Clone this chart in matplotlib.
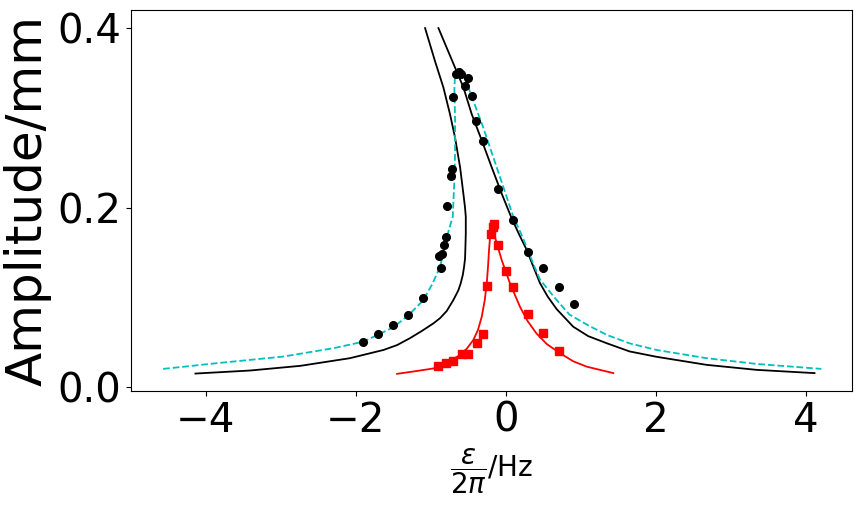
import matplotlib
matplotlib.use("Agg")
import matplotlib.pyplot as plt

# measured points (black dots)
dots_x = [-1.90, -1.70, -1.50, -1.30, -1.10, -0.89, -0.87, -0.85, -0.82, -0.80, -0.78,
          -0.73, -0.72, -0.70, -0.67, -0.63, -0.60, -0.54, -0.50, -0.45, -0.40, -0.30,
          -0.10, 0.10, 0.30, 0.50, 0.71, 0.91]
dots_y = [0.051, 0.059, 0.069, 0.080, 0.099, 0.146, 0.133, 0.149, 0.159, 0.167, 0.202,
          0.235, 0.243, 0.323, 0.349, 0.351, 0.349, 0.335, 0.344, 0.324, 0.297, 0.274,
          0.221, 0.186, 0.151, 0.133, 0.112, 0.093]

# measured points (red squares)
sq_x = [-0.90, -0.80, -0.70, -0.59, -0.50, -0.39, -0.30, -0.25, -0.19, -0.17, -0.156,
        -0.10, 0.01, 0.10, 0.30, 0.50, 0.71]
sq_y = [0.024, 0.027, 0.029, 0.037, 0.037, 0.049, 0.059, 0.113, 0.171, 0.179, 0.182,
        0.158, 0.130, 0.112, 0.082, 0.060, 0.040]

# black curve, left branch
bl_x = [-4.14, -3.41, -2.74, -2.08, -1.63, -1.45, -1.28, -1.12, -0.965, -0.876, -0.787,
        -0.70, -0.632, -0.60, -0.573, -0.556, -0.543, -0.539, -0.533, -0.533, -0.543,
        -0.565, -0.609, -0.676, -0.743, -0.832, -0.943, -1.076]
bl_y = [0.0153, 0.0187, 0.0239, 0.0324, 0.0416, 0.047, 0.0546, 0.0627, 0.0712, 0.077, 0.085,
        0.097, 0.108, 0.116, 0.125, 0.134, 0.143, 0.153, 0.171, 0.190, 0.200,
        0.2155, 0.245, 0.278, 0.304, 0.334, 0.363, 0.400]

# black curve, right branch
br_x = [-0.898, -0.787, -0.676, -0.565, -0.453, -0.32, -0.187, -0.053, 0.08, 0.18, 0.28,
        0.37, 0.457, 0.56, 0.68, 0.90, 1.10, 1.35, 1.65, 2.01, 2.68, 3.35, 4.12]
br_y = [0.400, 0.378, 0.356, 0.334, 0.304, 0.275, 0.245, 0.2155, 0.188, 0.170, 0.153,
        0.134, 0.116, 0.101, 0.087, 0.0675, 0.057, 0.049, 0.040, 0.034, 0.025, 0.0194, 0.0158]

# cyan dashed curve
cy_x = [-4.57, -3.85, -2.97, -2.30, -1.90, -1.50, -1.30, -1.10, -0.98, -0.876, -0.773,
        -0.707, -0.689, -0.676, -0.676, -0.685, -0.676, -0.632, -0.565, -0.432, -0.299,
        -0.165, -0.032, 0.101, 0.20, 0.28, 0.37, 0.457, 0.65, 0.85, 1.10, 1.35, 1.65,
        2.01, 2.68, 3.35, 4.21]
cy_y = [0.0205, 0.0269, 0.0342, 0.0435, 0.0508, 0.0668, 0.080, 0.097, 0.115, 0.134, 0.171,
        0.190, 0.223, 0.260, 0.297, 0.334, 0.347, 0.356, 0.349, 0.319, 0.289,
        0.256, 0.223, 0.190, 0.172, 0.156, 0.137, 0.120, 0.100, 0.081, 0.069, 0.0583, 0.049,
        0.0416, 0.0324, 0.026, 0.0205]

# red curve
rd_x = [-1.45, -1.20, -0.965, -0.876, -0.609, -0.52, -0.432, -0.37, -0.32, -0.28, -0.253,
        -0.236, -0.223, -0.20, -0.187, -0.143, -0.053, 0.057, 0.19, 0.29, 0.41, 0.55,
        0.724, 0.90, 1.08, 1.435]
rd_y = [0.015, 0.018, 0.021, 0.023, 0.036, 0.043, 0.0527, 0.064, 0.0786, 0.097, 0.1157,
        0.135, 0.1526, 0.1767, 0.182, 0.167, 0.1415, 0.1157, 0.0897, 0.074, 0.060, 0.048,
        0.038, 0.029, 0.023, 0.0158]

fig, ax = plt.subplots(figsize=(8.65, 5.07), dpi=100)
fig.subplots_adjust(left=0.1514, right=0.985, top=0.980, bottom=0.229)

ax.plot(bl_x, bl_y, color='k', lw=1.3)
ax.plot(br_x, br_y, color='k', lw=1.3)
ax.plot(cy_x, cy_y, 'c--', lw=1.3)
ax.plot(rd_x, rd_y, color='r', lw=1.3)
ax.plot(dots_x, dots_y, 'ko', ms=5.5)
ax.plot(sq_x, sq_y, 'rs', ms=5.5)

ax.set_xlim(-5.0, 4.62)
ax.set_ylim(-0.004, 0.42)
ax.set_xticks([-4, -2, 0, 2, 4])
ax.set_yticks([0.0, 0.2, 0.4])
ax.tick_params(labelsize=29)

ax.set_ylabel("Amplitude/mm", fontsize=36)
ax.set_xlabel(r"$\dfrac{\varepsilon}{2\pi}$/Hz", fontsize=20)

fig.savefig("out.png", dpi=100)
